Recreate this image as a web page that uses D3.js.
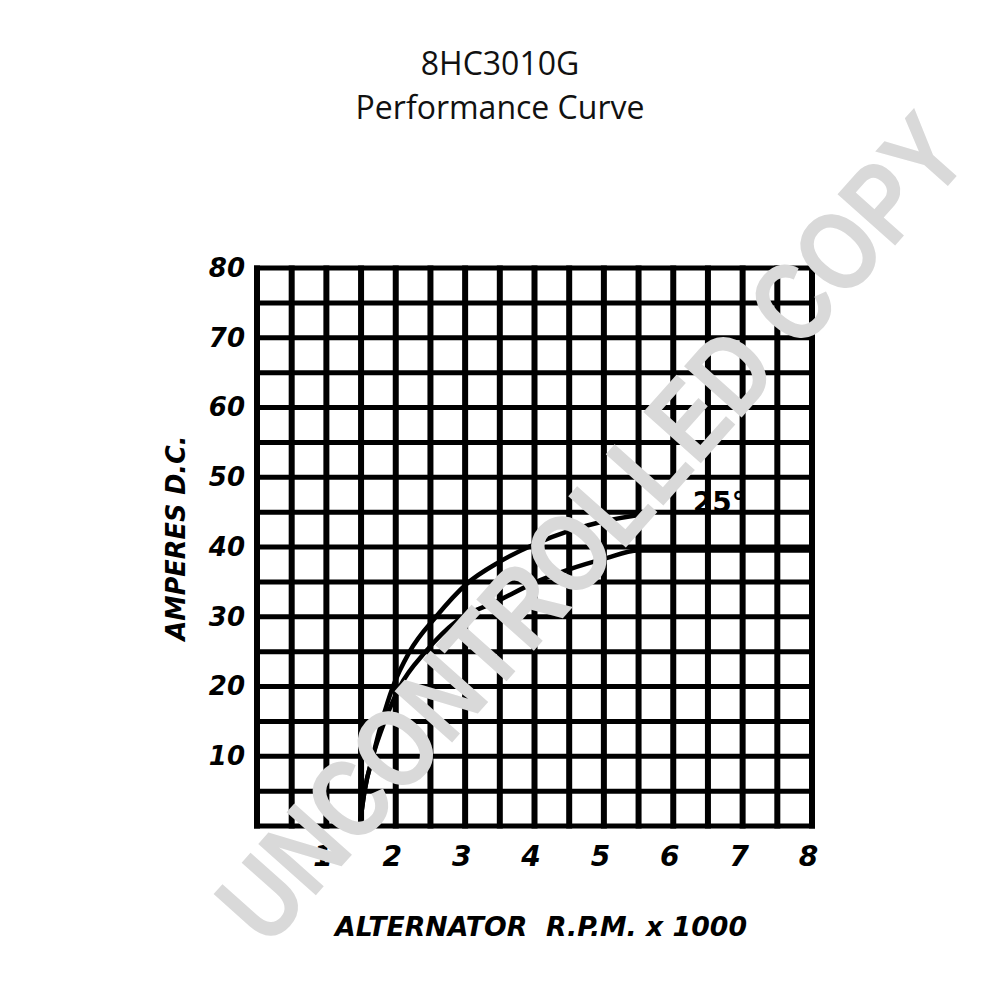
<!DOCTYPE html>
<html>
<head>
<meta charset="utf-8">
<script src="https://cdn.jsdelivr.net/npm/d3@7"></script>
<style>
  html, body { margin: 0; padding: 0; background: #fff; }
  svg { display: block; }
</style>
</head>
<body>
<svg id="chart" width="1000" height="1000"></svg>
<script>
// ---- data ----
const titleLines = ["8HC3010G", "Performance Curve"];
const xTickValues = [1, 2, 3, 4, 5, 6, 7, 8];          // RPM x 1000
const yTickValues = [10, 20, 30, 40, 50, 60, 70, 80];  // amperes
const upperRpm  = [1.48, 1.55, 1.67, 1.80, 1.96, 2.20, 2.58, 3.02, 3.50, 4.00, 4.50, 5.00, 5.50];
const upperAmps = [0, 5, 10, 15, 20, 25, 30, 34.7, 37.9, 40.4, 42.3, 43.7, 44.6];
const lowerRpm  = [1.48, 1.55, 1.67, 1.84, 2.06, 2.43, 2.88, 3.50, 4.00, 4.50, 5.00, 5.50, 8.00];
const lowerAmps = [0, 5, 10, 15, 20, 25, 29.4, 32.4, 34.9, 36.8, 38.3, 39.5, 39.5];
const curveLabel = {text: "25°", rpm: 6.28, amps: 45};
const xTitle = "ALTERNATOR  R.P.M. x 1000";
const yTitle = "AMPERES D.C.";
const watermark = "UNCONTROLLED COPY";

// ---- drawing ----
const svg = d3.select("#chart");
const x = d3.scaleLinear().domain([0, 8]).range([257, 812]);
const y = d3.scaleLinear().domain([0, 80]).range([826, 268]);

// title
svg.append("g").selectAll("text").data(titleLines).join("text")
  .attr("x", 500)
  .attr("y", (d, i) => 75 + i * 44)
  .attr("text-anchor", "middle")
  .attr("font-family", "'Open Sans', 'Noto Sans', sans-serif")
  .attr("font-size", 32)
  .attr("fill", "#111")
  .text(d => d);

// grid
const grid = svg.append("g");
grid.selectAll("line.v").data(d3.range(0, 8.001, 0.5)).join("line")
  .attr("class", "v")
  .attr("x1", d => x(d)).attr("x2", d => x(d))
  .attr("y1", y(80) - 2.5).attr("y2", y(0) + 2.5)
  .attr("stroke", "#000").attr("stroke-width", 6);
grid.selectAll("line.h").data(d3.range(0, 80.001, 5)).join("line")
  .attr("class", "h")
  .attr("y1", d => y(d)).attr("y2", d => y(d))
  .attr("x1", x(0) - 3).attr("x2", x(8) + 3)
  .attr("stroke", "#000").attr("stroke-width", 5);

// axes (tick labels only, no domain line)
const fontAx = "'DejaVu Sans', sans-serif";
const yAxis = svg.append("g")
  .attr("transform", `translate(${x(0)},0)`)
  .call(d3.axisLeft(y).tickValues(yTickValues).tickSize(0).tickPadding(12));
yAxis.select(".domain").remove();
yAxis.selectAll("text")
  .attr("font-family", fontAx).attr("font-weight", "bold").attr("font-style", "italic")
  .attr("font-size", 26).attr("fill", "#000");

const xAxis = svg.append("g")
  .attr("transform", `translate(0,${y(0)})`)
  .call(d3.axisBottom(x).tickValues(xTickValues).tickFormat(d3.format("d")).tickSize(0).tickPadding(20));
xAxis.select(".domain").remove();
xAxis.selectAll("text")
  .attr("font-family", fontAx).attr("font-weight", "bold").attr("font-style", "italic")
  .attr("font-size", 28).attr("fill", "#000").attr("dx", -4);

// axis titles
svg.append("text")
  .attr("x", 541).attr("y", 936)
  .attr("text-anchor", "middle")
  .attr("font-family", fontAx).attr("font-weight", "bold").attr("font-style", "italic")
  .attr("font-size", 27).attr("textLength", 412).attr("lengthAdjust", "spacingAndGlyphs")
  .attr("fill", "#000").attr("xml:space", "preserve")
  .text(xTitle);

svg.append("text")
  .attr("transform", "translate(185,538) rotate(-90)")
  .attr("text-anchor", "middle")
  .attr("font-family", fontAx).attr("font-weight", "bold").attr("font-style", "italic")
  .attr("font-size", 26).attr("textLength", 205).attr("lengthAdjust", "spacingAndGlyphs")
  .attr("fill", "#000")
  .text(yTitle);

// curves
const line = d3.line().x(d => x(d[0])).y(d => y(d[1])).curve(d3.curveMonotoneX);
const upper = upperRpm.map((r, i) => [r, upperAmps[i]]);
const lower = lowerRpm.map((r, i) => [r, lowerAmps[i]]);
svg.append("path").datum(upper).attr("d", line)
  .attr("fill", "none").attr("stroke", "#000").attr("stroke-width", 4.5);
svg.append("path").datum(lower).attr("d", line)
  .attr("fill", "none").attr("stroke", "#000").attr("stroke-width", 4.5);

svg.append("text")
  .attr("x", x(curveLabel.rpm)).attr("y", y(curveLabel.amps))
  .attr("font-family", fontAx).attr("font-weight", "bold")
  .attr("font-size", 28).attr("fill", "#000")
  .text(curveLabel.text);

// watermark
svg.append("text")
  .attr("transform", "translate(590,527) rotate(-48.3)")
  .attr("text-anchor", "middle")
  .attr("dy", "0.36em")
  .attr("font-family", "'Liberation Sans', Arial, sans-serif")
  .attr("font-weight", "bold")
  .attr("font-size", 112)
  .attr("textLength", 1060).attr("lengthAdjust", "spacingAndGlyphs")
  .attr("fill", "#d9d9d9")
  .text(watermark);
</script>
</body>
</html>
